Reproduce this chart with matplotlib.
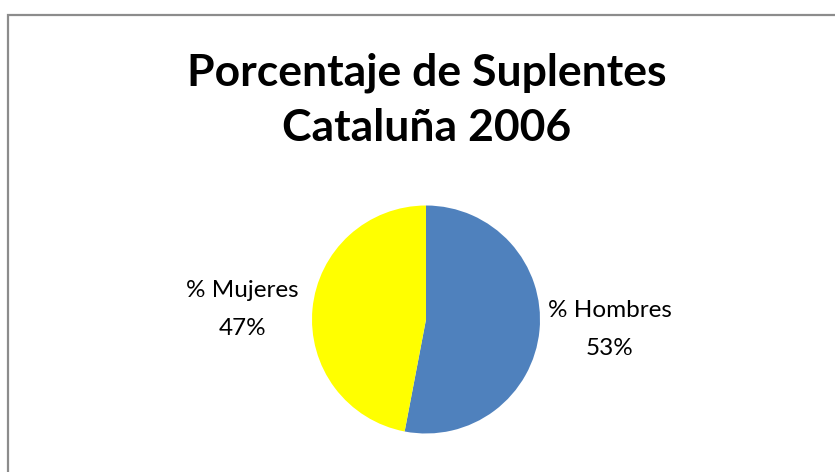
import matplotlib.pyplot as plt
from matplotlib.patches import Rectangle

categories = ['% Hombres', '% Mujeres']
values = [53, 47]
colors = ['#4F81BD', '#FFFF00']
title = 'Porcentaje de Suplentes\nCataluña 2006'

W, H = 835, 472
fig = plt.figure(figsize=(W / 100, H / 100), dpi=100)
fig.patch.set_facecolor('white')

# outer chart frame (grey, cut off at right/bottom like the source)
fig.patches.append(Rectangle((8 / W, -0.05), 1.1, (H - 15) / H + 0.05,
                             transform=fig.transFigure, fill=False,
                             edgecolor='#8c8c8c', linewidth=1.6))

fig.text(427 / W, 1 - 100 / H, title, ha='center', va='center',
         fontsize=32, fontweight='bold', family='Lato', linespacing=1.45)

r = 114
cx, cy = 426, 319.5
ax = fig.add_axes([(cx - r) / W, (H - cy - r) / H, 2 * r / W, 2 * r / H])
labels = [f'{c}\n{v}%' for c, v in zip(categories, values)]
wedges, texts = ax.pie(values, colors=colors, startangle=90, counterclock=False,
                       labels=labels, labeldistance=1.62,
                       textprops=dict(fontsize=17.5, family='Lato', ha='center',
                                      va='center', linespacing=2.0))
# Excel's outside labels sit flatter than a pure radial placement
for t in texts:
    x, y = t.get_position()
    t.set_position((x, y * 0.55))
ax.set_aspect('equal')
ax.set_xlim(-1, 1)
ax.set_ylim(-1, 1)
ax.axis('off')

fig.savefig('out.png', dpi=100)
